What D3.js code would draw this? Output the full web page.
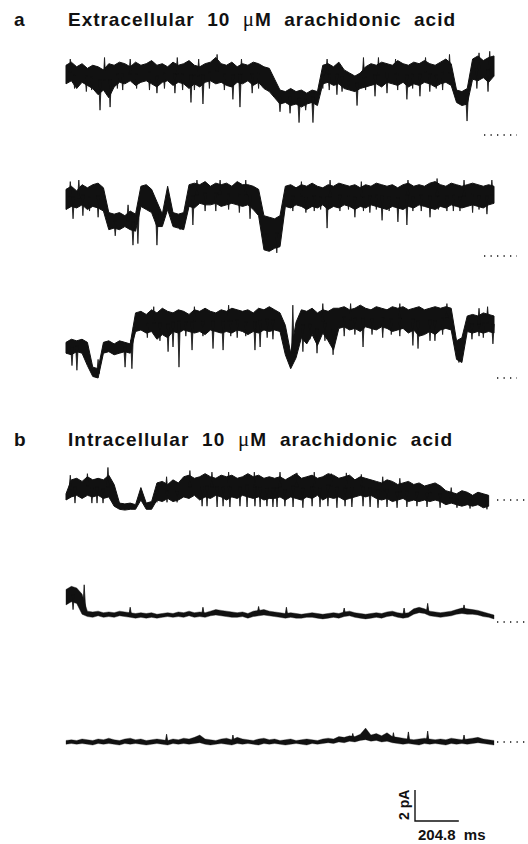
<!DOCTYPE html>
<html><head><meta charset="utf-8">
<script src="https://cdn.jsdelivr.net/npm/d3@7"></script>
<style>
body{margin:0;background:#fff}
svg{display:block}
text{font-family:"Liberation Sans",Arial,Helvetica,sans-serif;font-weight:bold;fill:#111}
</style>
</head><body>
<svg id="c" width="528" height="844"></svg>
<script>
// sampling interval of the envelope values (ms); each trace spans 2000 ms
const STEP_MS = 25;
const TRACE_MS = 2000;

// ---- panel titles ----
const panelLetters = ["a", "b"];
const panelTitles = ["Extracellular  10  \u03bcM  arachidonic  acid", "Intracellular  10  \u03bcM  arachidonic  acid"];

// ---- scale bar ----
const barCurrentPA = 2;
const barTimeMS = 204.8;
const barCurrentLabel = "2 pA";
const barTimeLabel = "204.8  ms";

// ---- trace envelopes (pA relative to the dotted reference level), one value per STEP_MS ----
const a1Hi = [4.5,4.7,4.4,4.6,4.3,4.5,4.4,4.2,4.6,4.5,4.7,4.6,4.4,4.7,4.5,4.6,4.8,4.5,4.6,4.4,4.7,4.5,4.6,4.8,4.5,4.4,4.6,4.7,5.0,4.6,4.5,4.7,4.4,4.6,4.5,4.7,4.6,4.4,4.3,
  3.6,2.9,2.8,3.0,2.8,2.9,2.7,2.9,2.8,
  4.5,4.6,4.4,4.7,4.2,4.0,3.8,4.0,4.4,4.6,4.5,4.7,4.6,4.5,4.8,4.6,4.5,4.7,4.6,4.8,4.6,4.5,4.7,4.9,4.6,
  2.9,2.8,3.0,4.9,5.1,4.8,5.0,5.1];
const a1Lo = [3.3,3.5,3.0,3.4,3.2,3.0,2.6,2.9,2.4,3.1,3.4,3.3,3.5,3.2,3.4,3.5,3.3,3.1,3.4,3.5,3.2,3.4,3.3,3.0,3.3,3.1,3.4,3.5,3.3,3.4,3.2,3.1,3.4,3.3,3.5,3.2,3.4,3.0,2.8,
  2.4,2.0,2.1,1.9,2.0,1.8,2.0,2.1,1.9,
  3.3,3.4,3.2,3.3,3.0,2.9,2.8,3.0,3.1,3.2,3.3,3.1,3.4,3.3,3.2,3.4,3.1,3.3,3.2,3.4,3.3,3.1,3.3,3.4,3.2,
  2.1,1.9,2.0,3.6,3.5,3.7,3.4,3.8];
const a1Spikes = [[40,3.0],[95,2.8],[120,2.9],[159,1.6],[206,1.8],[240,3.0],[265,2.9],[330,3.0],[390,2.9],[425,2.7],[460,3.0],[509,2.7],[545,2.9],[584,2.1],[600,2.9],[640,2.0],[670,3.0],[740,2.9],[780,2.3],[813,1.8],[870,2.7],[900,3.0],
  [1000,1.5],[1047,1.4],[1089,0.8],[1120,1.6],[1154,0.8],[1200,3.0],[1230,2.9],[1266,2.6],[1290,2.8],[1320,3.0],[1360,1.9],[1400,2.9],[1444,2.5],[1500,2.7],[1550,2.9],[1593,2.3],[1620,3.0],[1654,2.5],[1700,2.8],[1730,3.0],[1760,2.9],[1874,0.9],[1920,3.0],[1972,2.8],
  [20,4.9],[180,5.0],[300,4.9],[520,5.0],[620,4.9],[706,5.2],[820,4.9],[1220,4.9],[1390,5.0],[1460,5.0],[1540,4.9],[1680,5.0],[1792,5.2],[1930,5.3],[1980,5.4]];

const a2Hi = [4.3,4.5,4.2,4.6,4.4,4.6,4.7,4.4,
  2.8,2.7,2.8,2.6,2.9,2.7,
  4.5,4.6,4.3,3.5,2.7,4.5,2.8,2.7,2.8,
  4.6,4.7,4.6,4.8,4.5,4.7,4.6,4.7,4.5,4.8,4.6,4.6,4.5,4.3,
  2.6,2.5,2.4,2.6,
  4.5,4.6,4.4,4.6,4.5,4.7,4.5,4.4,4.6,4.5,4.7,4.6,4.5,4.6,4.4,4.6,4.5,4.7,4.6,4.5,4.6,4.4,4.6,4.7,4.5,4.6,4.5,4.7,4.8,4.6,4.5,4.7,4.6,4.5,4.6,4.7,4.6,4.5,4.6,4.5];
const a2Lo = [3.0,3.2,3.1,3.3,3.0,3.2,3.1,2.9,
  1.7,1.8,1.7,1.9,1.7,1.6,
  3.2,3.0,2.8,1.9,1.9,3.0,1.9,1.8,1.7,
  3.2,3.1,3.4,3.3,3.3,3.4,3.2,3.3,3.4,3.3,3.2,3.3,3.0,2.6,
  0.4,0.3,0.5,0.6,
  3.2,3.1,3.3,3.2,3.0,3.2,3.1,3.3,3.0,3.2,3.1,3.3,3.2,3.0,3.2,3.1,3.3,3.2,3.1,3.0,3.2,3.1,3.0,3.2,3.1,3.3,3.2,3.1,3.0,3.2,3.1,3.3,3.2,3.1,3.2,3.3,3.2,3.1,3.3,3.4];
const a2Spikes = [[33,2.4],[79,2.6],[110,2.9],[150,2.5],[230,1.3],[313,0.7],[336,0.8],[425,0.7],[533,1.7],[593,2.0],[650,2.9],[700,2.9],[760,3.0],[810,2.8],[860,2.4],[940,0.9],[985,0.2],
  [1060,2.9],[1121,2.8],[1160,2.9],[1190,3.0],[1220,1.8],[1280,2.9],[1320,3.0],[1350,2.5],[1390,2.9],[1420,2.8],[1450,3.0],[1477,2.3],[1510,2.9],[1551,2.2],[1593,2.0],[1621,2.9],[1660,2.9],[1701,2.5],[1740,3.0],[1780,2.9],[1810,2.9],[1841,2.9],[1900,2.8],[1930,3.0],[1967,2.7],
  [20,4.8],[60,4.9],[290,3.3],[612,4.9],[720,4.9],[840,4.9],[1100,4.8],[1234,4.9],[1380,4.8],[1598,4.9],[1734,5.0],[1860,4.9],[1990,4.9]];

const a3Hi = [2.3,2.5,2.4,2.5,2.3,
  0.7,0.6,
  2.3,2.4,2.2,2.4,2.3,2.2,
  4.2,4.3,4.1,4.4,4.2,4.5,4.3,4.2,4.4,4.3,4.1,4.4,4.3,4.5,4.3,4.2,4.4,4.3,4.5,4.4,4.3,4.4,4.2,4.5,4.4,4.6,
  4.4,4.2,3.4,1.6,3.6,
  4.4,4.3,4.5,4.2,4.4,4.3,4.5,
  4.5,4.6,4.4,4.5,4.7,4.5,4.4,4.6,4.5,4.4,4.6,4.5,4.6,4.4,4.5,4.6,4.4,4.5,4.6,4.5,4.6,4.5,
  2.4,2.6,
  4.0,4.1,4.0,4.2,4.1,4.0];
const a3Lo = [1.6,1.5,1.7,1.6,0.8,
  0.1,0.0,
  1.6,1.7,1.5,1.6,1.7,1.6,
  3.0,3.1,2.9,3.0,2.5,2.8,2.6,3.0,2.9,3.1,3.0,2.9,3.0,2.8,3.1,3.0,2.9,3.0,2.9,3.1,3.0,2.8,3.0,2.9,3.1,3.0,
  3.1,3.0,1.5,0.6,1.3,
  2.6,2.2,2.8,2.1,2.9,2.4,1.8,
  3.2,3.3,3.1,3.2,3.0,3.3,3.2,3.1,3.3,3.2,3.0,3.1,3.2,2.9,3.1,2.7,2.8,3.0,2.8,3.1,3.2,3.1,
  1.2,1.0,
  3.0,2.9,3.0,2.9,3.0,2.9];
const a3Spikes = [[28,0.8],[51,0.5],[150,1.2],[276,0.7],[308,0.6],[380,2.6],[439,2.4],[477,1.7],[500,2.0],[528,0.7],[560,2.7],[589,1.8],[640,2.7],[687,1.9],[734,1.8],[770,2.7],[800,2.6],[840,2.7],[883,1.8],[907,2.0],[940,2.6],[967,2.5],
  [1107,1.7],[1140,2.5],[1173,1.6],[1210,2.4],[1248,1.5],[1300,2.7],[1350,2.8],[1388,2.0],[1430,2.8],[1480,2.6],[1520,2.8],[1560,2.7],[1621,2.1],[1645,1.9],[1701,2.4],[1724,2.4],[1760,2.8],[1836,1.0],[1897,2.5],[1930,2.7],[1950,2.6],[1995,2.2],
  [320,2.8],[410,4.6],[600,4.6],[760,4.7],[1060,4.7],[1200,4.8],[1330,4.8],[1560,4.8],[1780,4.8],[1930,4.5],[1970,4.6]];

const b1Hi = [0.4,
  1.3,1.4,1.2,1.5,1.3,1.4,1.3,1.6,
  1.0,
  -0.2,-0.25,-0.2,-0.3,
  0.8,-0.2,-0.1,
  1.1,1.2,1.0,1.3,1.1,
  1.5,1.6,1.4,1.5,1.7,1.5,1.4,1.6,1.5,1.6,1.4,1.5,1.7,1.5,1.6,1.4,1.5,
  1.4,1.5,1.3,1.5,1.7,1.4,1.5,1.6,1.4,1.5,1.7,1.6,1.4,1.5,1.6,1.3,1.5,1.4,1.3,
  1.2,1.1,1.3,1.2,1.0,1.1,1.2,1.0,1.1,0.9,1.0,1.1,0.9,
  0.6,0.5,0.4,0.6,0.5,0.3,0.5,0.4,0.3];
const b1Lo = [0.0,
  0.2,0.3,0.1,0.3,0.2,0.3,0.1,0.2,
  -0.4,
  -0.6,-0.65,-0.6,-0.6,
  0.0,-0.6,-0.6,
  0.0,-0.1,0.1,-0.1,0.0,
  0.2,0.1,0.3,0.0,0.2,0.1,0.3,0.2,0.0,0.2,0.1,0.3,0.2,0.1,0.2,0.0,0.1,
  0.1,0.2,0.0,0.2,0.1,0.0,0.2,0.1,0.3,0.0,0.2,0.1,0.2,0.0,0.1,0.2,0.3,0.2,0.3,
  0.1,0.0,0.1,-0.1,0.0,0.1,-0.1,0.0,-0.1,0.0,-0.1,0.0,-0.1,
  -0.3,-0.2,-0.3,-0.4,-0.3,-0.4,-0.3,-0.5,-0.4];
const b1Spikes = [[42,-0.2],[121,-0.2],[145,-0.2],[173,-0.2],[425,-0.15],[472,-0.15],[519,-0.15],[636,-0.4],[659,-0.4],[706,-0.45],[734,-0.4],[766,-0.45],[813,-0.4],[846,-0.45],
  [883,-0.4],[907,-0.45],[939,-0.4],[967,-0.45],[986,-0.45],[1023,-0.4],[1061,-0.45],[1107,-0.5],[1150,-0.4],[1187,-0.45],[1224,-0.4],[1266,-0.5],[1304,-0.4],[1336,-0.45],
  [1388,-0.4],[1421,-0.45],[1458,-0.5],[1500,-0.45],[1547,-0.5],[1593,-0.45],[1640,-0.4],[1687,-0.45],[1748,-0.5],[1827,-0.5],[1888,-0.55],[1967,-0.6],
  [20,1.6],[100,1.7],[196,2.1],[470,1.5],[579,1.9],[682,1.8],[760,1.8],[880,1.8],[1000,1.8],[1079,1.75],[1160,1.8],[1240,1.7],[1310,1.75],[1380,1.65],[1480,1.5],[1560,1.4],[1700,1.0],[1800,0.8]];

const b2Hi = [2.1,2.3,2.2,1.8,
  0.7,0.65,0.7,0.6,0.65,0.6,0.7,0.65,0.6,0.55,0.6,0.55,0.6,0.5,0.55,0.6,0.55,0.65,0.6,0.7,
  0.6,0.65,0.6,0.7,0.8,0.75,0.7,0.65,0.6,0.65,0.55,0.7,0.75,0.8,0.7,0.65,0.6,0.55,0.6,0.55,
  0.5,0.55,0.6,0.55,0.5,0.55,0.6,0.55,0.65,0.7,0.6,0.55,0.5,0.55,0.6,0.55,0.65,0.7,0.6,0.55,
  0.6,0.85,0.95,0.85,0.7,0.65,0.6,0.65,0.7,0.8,0.9,0.85,0.8,0.75,0.65,0.55,0.45];
const b2Lo = [1.1,1.3,1.2,0.5,
  0.35,0.3,0.4,0.3,0.35,0.3,0.4,0.35,0.3,0.25,0.3,0.25,0.3,0.25,0.3,0.35,0.3,0.35,0.3,0.4,
  0.3,0.35,0.3,0.4,0.45,0.4,0.35,0.3,0.3,0.35,0.25,0.35,0.4,0.45,0.4,0.35,0.3,0.25,0.3,0.25,
  0.25,0.3,0.3,0.25,0.2,0.25,0.3,0.25,0.35,0.4,0.3,0.25,0.2,0.25,0.3,0.25,0.35,0.4,0.3,0.25,
  0.3,0.5,0.6,0.55,0.4,0.35,0.3,0.35,0.4,0.5,0.55,0.5,0.5,0.45,0.35,0.3,0.2];
const b2Spikes = [[33,0.8],[85,2.4],[300,0.95],[640,0.95],[900,1.0],[1030,0.95],[1300,0.9],[1580,0.9],[1690,1.2],[1860,1.1]];

const b3Hi = [0.1,
  0.15,0.1,0.2,0.15,0.1,0.2,0.15,0.25,0.15,0.1,
  0.2,0.25,0.15,0.2,0.1,0.15,0.2,0.15,0.1,0.2,
  0.15,0.25,0.2,0.3,0.45,0.2,0.15,0.1,0.2,0.25,
  0.15,0.3,0.2,0.15,0.1,0.2,0.25,0.15,0.2,0.1,
  0.15,0.2,0.1,0.15,0.2,0.15,0.1,0.2,0.25,0.2,
  0.35,0.3,0.4,0.35,0.5,0.9,0.45,0.55,0.4,0.6,
  0.35,0.3,0.25,0.2,0.15,0.2,0.25,0.2,0.15,0.2,
  0.15,0.25,0.2,0.15,0.2,0.25,0.3,0.2,0.15,0.1];
const b3Lo = [-0.15,
  -0.1,-0.15,-0.1,-0.15,-0.2,-0.1,-0.15,-0.1,-0.15,-0.2,
  -0.1,-0.15,-0.1,-0.15,-0.2,-0.15,-0.1,-0.15,-0.2,-0.1,
  -0.15,-0.1,-0.15,-0.1,-0.05,-0.15,-0.2,-0.15,-0.1,-0.15,
  -0.2,-0.1,-0.15,-0.1,-0.15,-0.2,-0.1,-0.15,-0.1,-0.15,
  -0.2,-0.15,-0.1,-0.15,-0.2,-0.1,-0.15,-0.1,-0.05,-0.1,
  0.0,-0.05,0.05,0.0,0.1,0.15,0.05,0.1,0.0,0.05,
  -0.05,-0.1,-0.15,-0.1,-0.15,-0.2,-0.1,-0.15,-0.1,-0.15,
  -0.2,-0.1,-0.15,-0.1,-0.15,-0.1,-0.05,-0.1,-0.15,-0.2];
const b3Spikes = [[470,0.5],[780,0.45],[1340,0.55],[1530,0.6],[1600,0.65],[1690,0.7],[1860,0.45]];

// ---------------- drawing ----------------
const svg = d3.select("#c");
const INK = "#111";
const x = d3.scaleLinear().domain([0, TRACE_MS]).range([66, 494]);
const PX_PER_PA = 15.5;
const zeroY = [135, 256, 378, 500, 622, 742];
const dotsX = [[484, 517], [484, 517], [497, 517], [497, 528], [497, 528], [497, 528]];
const edgeWidth = [1, 1, 1, 1, 0.4, 0.3];

const traceTable = [
  {hi: a1Hi, lo: a1Lo, spikes: a1Spikes},
  {hi: a2Hi, lo: a2Lo, spikes: a2Spikes},
  {hi: a3Hi, lo: a3Lo, spikes: a3Spikes},
  {hi: b1Hi, lo: b1Lo, spikes: b1Spikes},
  {hi: b2Hi, lo: b2Lo, spikes: b2Spikes},
  {hi: b3Hi, lo: b3Lo, spikes: b3Spikes}
];

traceTable.forEach((tr, k) => {
  const y = d3.scaleLinear().domain([0, 1]).range([zeroY[k], zeroY[k] - PX_PER_PA]);
  const pts = tr.hi.map((h, i) => ({t: i * STEP_MS, hi: h, lo: tr.lo[i]}));
  const g = svg.append("g");
  const area = d3.area().x(d => x(d.t)).y0(d => y(d.lo)).y1(d => y(d.hi));
  g.append("path").attr("d", area(pts))
    .attr("fill", INK).attr("stroke", INK).attr("stroke-width", edgeWidth[k]).attr("stroke-linejoin", "round");
  const mid = t => {
    const f0 = t / STEP_MS;
    const i = Math.max(0, Math.min(pts.length - 2, Math.floor(f0)));
    const f = Math.min(1, f0 - i);
    const a = pts[i], b = pts[i + 1];
    return ((a.hi + a.lo) / 2) * (1 - f) + ((b.hi + b.lo) / 2) * f;
  };
  g.selectAll("path.spike").data(tr.spikes).join("path").attr("class", "spike")
    .attr("d", d => {
      const xs = x(d[0]), y0 = y(mid(d[0])), y1 = y(d[1]);
      return `M${xs - 1.3},${y0}L${xs},${y1}L${xs + 1.3},${y0}Z`;
    })
    .attr("fill", INK).attr("stroke", INK).attr("stroke-width", 0.8).attr("stroke-linejoin", "round");
  // dotted reference level
  svg.append("line").attr("x1", dotsX[k][0]).attr("x2", dotsX[k][1])
    .attr("y1", y(0)).attr("y2", y(0))
    .attr("stroke", INK).attr("stroke-width", 1.3).attr("stroke-dasharray", "1.3,5.2");
});

// titles
const titleY = [26, 446];
panelLetters.forEach((l, i) => {
  svg.append("text").attr("x", 14).attr("y", titleY[i]).attr("font-size", 19).text(l);
  const parts = panelTitles[i].split("\u03bc");
  const t = svg.append("text").attr("x", 68).attr("y", titleY[i]).attr("font-size", 19)
    .attr("textLength", i === 0 ? 387 : 384).attr("lengthAdjust", "spacing")
    .attr("xml:space", "preserve").style("white-space", "pre");
  t.append("tspan").text(parts[0]);
  t.append("tspan").attr("font-family", "'Liberation Serif','Times New Roman',serif").attr("font-weight", "normal").attr("font-size", 21).text("\u03bc");
  t.append("tspan").text(parts[1]);
});

// scale bar
const barX0 = 415, barY0 = 821;
const barLenY = barCurrentPA * PX_PER_PA;
const barLenX = x(barTimeMS) - x(0);
svg.append("path")
  .attr("d", `M${barX0},${barY0 - barLenY}V${barY0}H${barX0 + barLenX}`)
  .attr("fill", "none").attr("stroke", INK).attr("stroke-width", 1.4);
svg.append("text").attr("transform", `translate(${barX0 - 6},${barY0 - 1}) rotate(-90)`)
  .attr("font-size", 14).text(barCurrentLabel);
svg.append("text").attr("x", 418).attr("y", 840).attr("font-size", 15)
  .attr("xml:space", "preserve").style("white-space", "pre").text(barTimeLabel);
</script>
</body></html>
